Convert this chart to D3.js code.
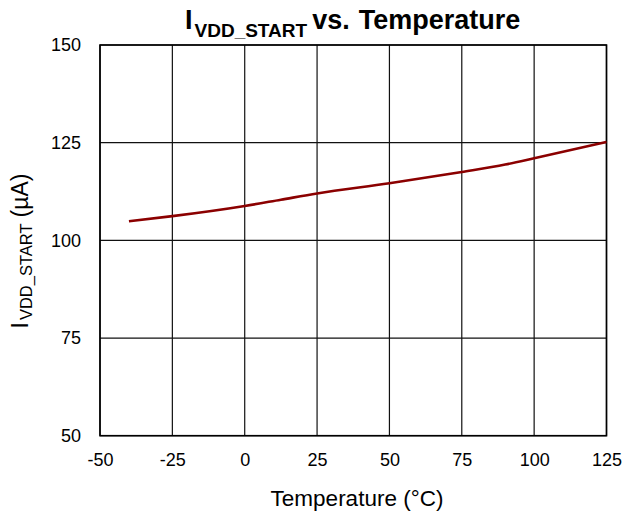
<!DOCTYPE html>
<html><head><meta charset="utf-8">
<script src="https://cdn.jsdelivr.net/npm/d3@7"></script>
<style>body{margin:0;background:#fff}svg{display:block}text{font-family:"Liberation Sans",Arial,sans-serif}</style>
</head><body><svg id="c" width="627" height="512"></svg>
<script>
const temps = [-40, -25, 0, 12.5, 25, 50, 75, 90, 100, 125];
const ivdd = [104.9, 106.2, 108.8, 110.4, 112.0, 114.6, 117.5, 119.4, 121.0, 125.2];
const xTicks = [-50, -25, 0, 25, 50, 75, 100, 125];
const yTicks = [50, 75, 100, 125, 150];

const svg = d3.select("#c");
const L = 100, R = 606.5, T = 45, B = 435.7;
const x = d3.scaleLinear().domain([-50, 125]).range([L, R]);
const y = d3.scaleLinear().domain([50, 150]).range([B, T]);

// grid
svg.append("g").selectAll("line").data(xTicks).join("line")
  .attr("x1", d => x(d)).attr("x2", d => x(d)).attr("y1", T).attr("y2", B)
  .attr("stroke", "#111").attr("stroke-width", 1.2);
svg.append("g").selectAll("line").data(yTicks).join("line")
  .attr("x1", L).attr("x2", R).attr("y1", d => y(d)).attr("y2", d => y(d))
  .attr("stroke", "#111").attr("stroke-width", 1.2);
svg.append("rect").attr("x", L).attr("y", T).attr("width", R - L).attr("height", B - T)
  .attr("fill", "none").attr("stroke", "#000").attr("stroke-width", 1.6);

// axes labels via d3 axes
const xa = svg.append("g").attr("transform", `translate(0,${B})`)
  .call(d3.axisBottom(x).tickValues(xTicks).tickSize(0).tickPadding(18).tickFormat(d => String(d)));
xa.select(".domain").remove();
xa.selectAll("text").attr("font-size", 18).attr("fill", "#000").attr("font-family", "Liberation Sans, Arial, sans-serif");
const ya = svg.append("g").attr("transform", `translate(${L},0)`)
  .call(d3.axisLeft(y).tickValues(yTicks).tickSize(0).tickPadding(19).tickFormat(d => String(d)));
ya.select(".domain").remove();
ya.selectAll("text").attr("font-size", 18).attr("fill", "#000").attr("font-family", "Liberation Sans, Arial, sans-serif");

// curve
const line = d3.line().x((d, i) => x(temps[i])).y((d, i) => y(ivdd[i])).curve(d3.curveMonotoneX);
svg.append("path").datum(ivdd).attr("d", line).attr("fill", "none")
  .attr("stroke", "#8b0000").attr("stroke-width", 2.6);

// title
const t = svg.append("text").attr("x", 185).attr("y", 29).attr("text-anchor", "start")
  .attr("font-weight", "bold").attr("font-size", 27).attr("fill", "#000");
t.append("tspan").text("I");
t.append("tspan").attr("font-size", 19).attr("dx", 2).attr("dy", 8).text("VDD_START");
t.append("tspan").attr("dy", -8).attr("dx", 5).text("vs.");
t.append("tspan").attr("dx", 9).text("Temperature");

// x axis title
svg.append("text").attr("x", 357).attr("y", 506).attr("text-anchor", "middle")
  .attr("font-size", 22.5).attr("fill", "#000").text("Temperature (°C)");

// y axis title
const yt = svg.append("text").attr("transform", "translate(28,251) rotate(-90)")
  .attr("text-anchor", "middle").attr("font-size", 23).attr("fill", "#000");
yt.append("tspan").text("I");
yt.append("tspan").attr("font-size", 16.5).attr("dx", 2).attr("dy", 4).text("VDD_START");
yt.append("tspan").attr("dy", -4).attr("dx", 6).text("(µA)");
</script></body></html>
